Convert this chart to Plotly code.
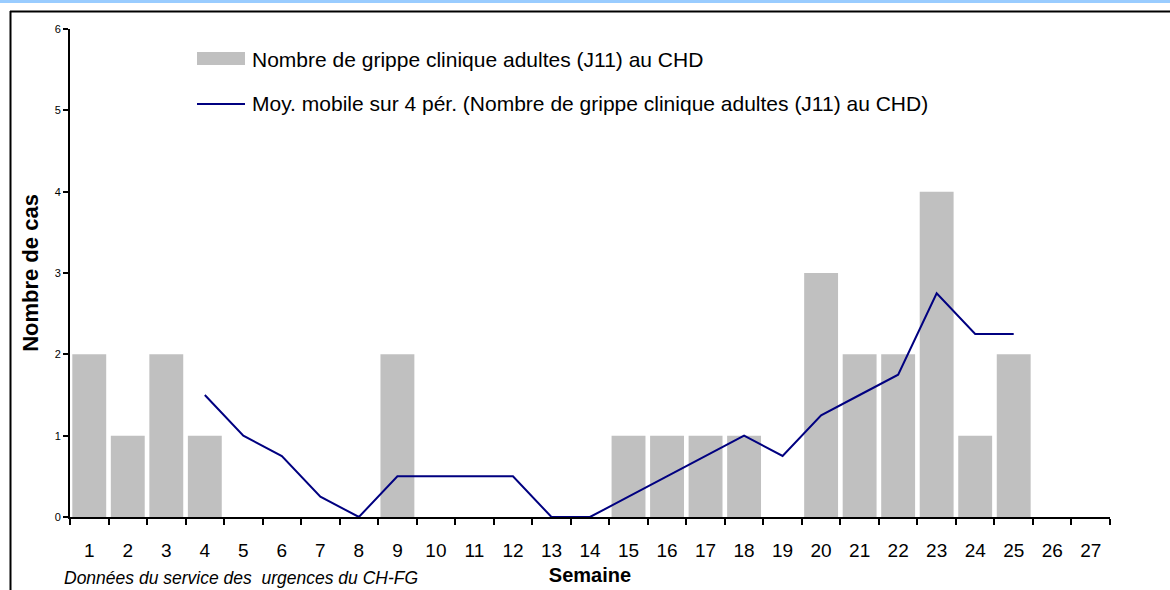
import plotly.graph_objects as go

weeks = [str(i) for i in range(1, 28)]
cases = [2, 1, 2, 1, 0, 0, 0, 0, 2, 0, 0, 0, 0, 0, 1, 1, 1, 1, 0, 3, 2, 2, 4, 1, 2, 0, 0]
ma_weeks = [str(i) for i in range(4, 26)]
ma_values = [1.5, 1.0, 0.75, 0.25, 0.0, 0.5, 0.5, 0.5, 0.5, 0.0, 0.0, 0.25, 0.5, 0.75,
             1.0, 0.75, 1.25, 1.5, 1.75, 2.75, 2.25, 2.25]
y_ticks = [0, 1, 2, 3, 4, 5, 6]

bar_name = "Nombre de grippe clinique adultes (J11) au CHD"
line_name = "Moy. mobile sur 4 pér. (Nombre de grippe clinique adultes (J11) au CHD)"

FONT = "Arial, Liberation Sans, sans-serif"
W, H = 1170, 590
L, R, T, B = 70, 60, 29, 73
pw, ph = W - L - R, H - T - B

def px(x):
    return (x - L) / pw

def py(y):
    return (H - B - y) / ph

fig = go.Figure()
fig.add_trace(go.Bar(x=weeks, y=cases, name=bar_name, marker=dict(color="#C0C0C0", line=dict(width=0)),
                     showlegend=False))
fig.add_trace(go.Scatter(x=ma_weeks, y=ma_values, name=line_name, mode="lines",
                         line=dict(color="#000080", width=2), showlegend=False))

shapes = [
    dict(type="rect", xref="paper", yref="paper", x0=px(-2), x1=px(W + 2), y0=py(3), y1=py(-2),
         fillcolor="#99CCFF", line=dict(width=0), layer="below"),
    dict(type="line", xref="paper", yref="paper", x0=px(10), x1=px(W + 5), y0=py(11.5), y1=py(11.5),
         line=dict(color="black", width=2)),
    dict(type="line", xref="paper", yref="paper", x0=px(10.5), x1=px(10.5), y0=py(11), y1=py(H + 5),
         line=dict(color="black", width=2)),
    dict(type="rect", xref="paper", yref="paper", x0=px(197), x1=px(245), y0=py(65), y1=py(52),
         fillcolor="#C0C0C0", line=dict(width=0)),
    dict(type="line", xref="paper", yref="paper", x0=px(197), x1=px(245), y0=py(104), y1=py(104),
         line=dict(color="#000080", width=2)),
]

annotations = [
    dict(text=bar_name, xref="paper", yref="paper", x=px(250), y=py(59), xanchor="left", yanchor="middle",
         showarrow=False, font=dict(family=FONT, size=21, color="black")),
    dict(text=line_name, xref="paper", yref="paper", x=px(250), y=py(104), xanchor="left", yanchor="middle",
         showarrow=False, font=dict(family=FONT, size=21, color="black")),
    dict(text="<i>Données du service des  urgences du CH-FG</i>", xref="paper", yref="paper",
         x=px(62), y=py(578), xanchor="left", yanchor="middle", showarrow=False,
         font=dict(family=FONT, size=17.5, color="black")),
]

fig.update_layout(
    width=W, height=H,
    margin=dict(l=L, r=R, t=T, b=B, pad=0, autoexpand=False),
    paper_bgcolor="white", plot_bgcolor="white",
    bargap=0.12,
    shapes=shapes, annotations=annotations,
    font=dict(family=FONT, color="black"),
    xaxis=dict(type="category", categoryorder="array", categoryarray=weeks,
               showline=True, linecolor="black", linewidth=2, automargin=False,
               ticks="outside", tickson="boundaries", ticklen=6, tickwidth=2, tickcolor="black",
               tickfont=dict(size=19, family=FONT), ticklabelstandoff=15,
               showgrid=False, zeroline=False,
               title=dict(text="<b>Semaine</b>", font=dict(size=20, family=FONT), standoff=8)),
    yaxis=dict(range=[0, 6], tickvals=y_ticks, showline=True, linecolor="black", linewidth=2,
               automargin=False,
               ticks="outside", ticklen=5, tickwidth=2, tickcolor="black",
               tickfont=dict(size=11, family=FONT), showgrid=False, zeroline=False,
               title=dict(text="<b>Nombre de cas</b>", font=dict(size=22, family=FONT), standoff=10)),
)

fig.write_html("out.html", config={"displayModeBar": False},
               post_script="document.body.style.margin='0';")
